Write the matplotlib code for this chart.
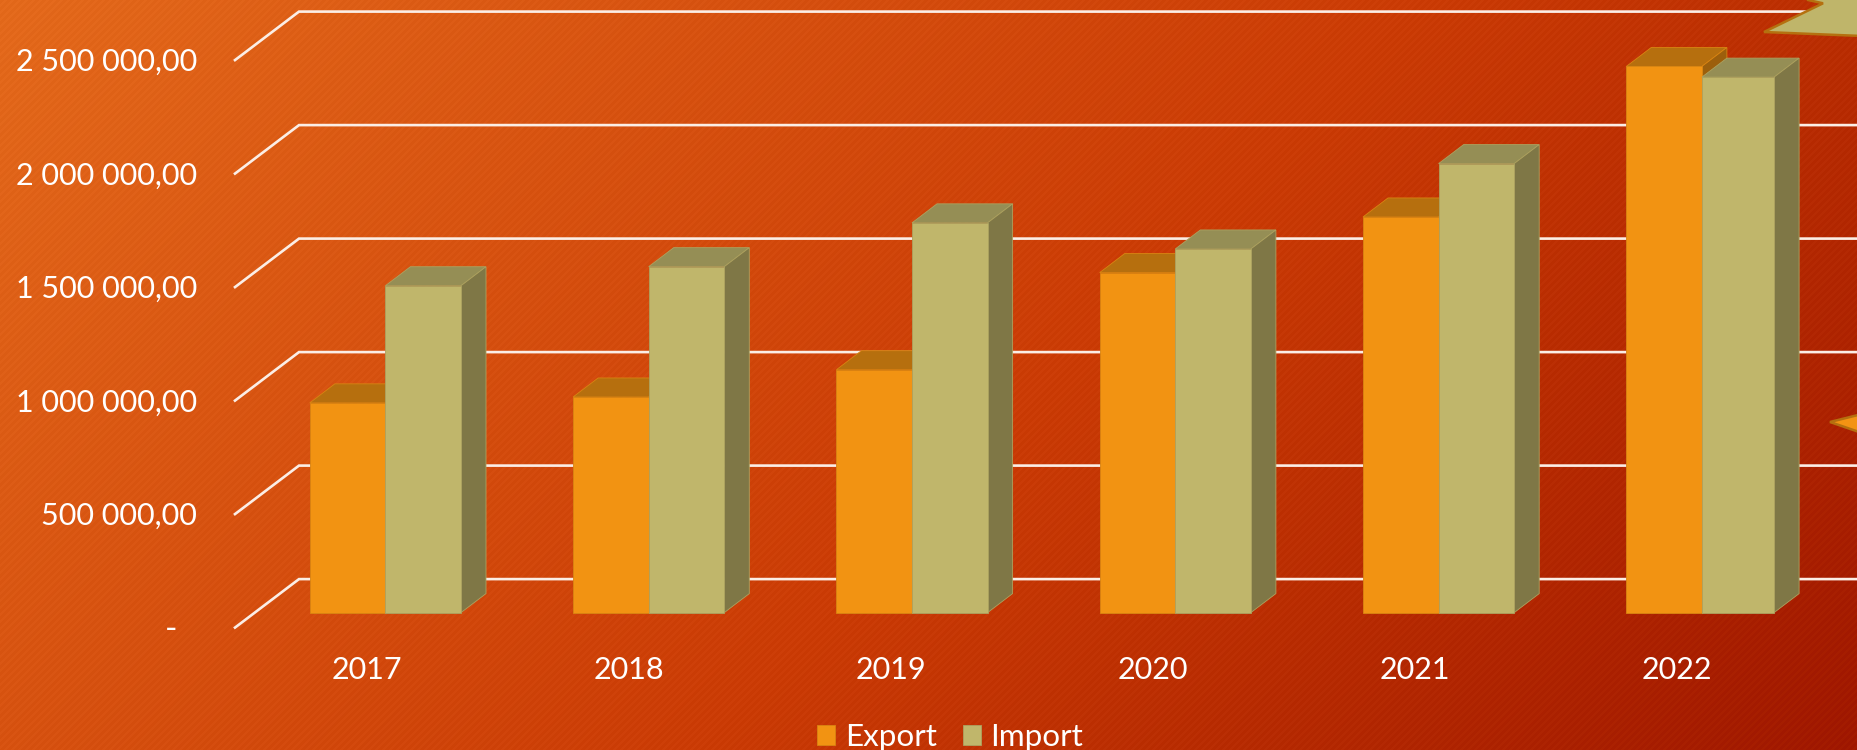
import numpy as np
import matplotlib
matplotlib.use("Agg")
import matplotlib.pyplot as plt
from matplotlib.patches import Polygon

years = ["2017", "2018", "2019", "2020", "2021", "2022"]
export_vals = [924000, 950000, 1070000, 1498000, 1743000, 2406000]
import_vals = [1440000, 1524000, 1717000, 1602000, 1978000, 2359000]
grid_vals = [0, 500000, 1000000, 1500000, 2000000, 2500000]

W, H = 1858, 750
plt.rcParams['font.family'] = ['Lato', 'DejaVu Sans']

fig = plt.figure(figsize=(W / 100, H / 100), dpi=100)

# background: diagonal gradient with fine stripes
yy, xx = np.mgrid[0:H, 0:W]
t = (xx / W * 0.72 + yy / H * 0.28)
stops = np.array([[230, 108, 30], [205, 62, 8], [162, 26, 0]], dtype=float)
bg = np.dstack([np.interp(t, [0, 0.55, 1], stops[:, c]) for c in range(3)])
stripes = ((xx + yy) % 7 < 3.5)[..., None] * 4.0
bg = np.clip(bg - stripes, 0, 255).astype(np.uint8)
ax_bg = fig.add_axes([0, 0, 1, 1], zorder=0)
ax_bg.imshow(bg, aspect='auto', interpolation='nearest')
ax_bg.axis('off')

ax = fig.add_axes([0, 0, 1, 1], zorder=1)
ax.patch.set_alpha(0)
ax.axis('off')

# scales: one group = 263.3 px, 500 000 = 113.5 px
px_x = 263.3
px_y = 113.5 / 500000
x0, y0 = 385.4, 750 - 612.6
ax.set_xlim(-x0 / px_x, (W - x0) / px_x)
ax.set_ylim(-y0 / px_y, (H - y0) / px_y)

bar_w = 75.6 / px_x
dep_x = 25 / px_x
dep_y = 19 / px_y
wall_dy = 33.5 / px_y
floor_dy = -15 / px_y
wall_x = (299 - x0) / px_x
floor_x = (235 - x0) / px_x
xmax = ax.get_xlim()[1]

for v in grid_vals:
    ax.plot([floor_x, wall_x, xmax], [v + floor_dy, v + wall_dy, v + wall_dy],
            color='#fbeee6', lw=1.9, zorder=1, solid_joinstyle='miter')
    if v == 0:
        ax.text(floor_x - 58 / px_x, v + floor_dy - 2 / px_y, "-", color='white', fontsize=24,
                ha='right', va='center')
    else:
        lab = f"{v:,.2f}".replace(",", " ").replace(".", ",")
        ax.text(floor_x - 38 / px_x, v + floor_dy - 2 / px_y, lab, color='white', fontsize=22,
                ha='right', va='center')


def draw_bars(xs, vals, widths, front, top, side, edge, label, z):
    bars = ax.bar(xs, vals, width=widths, align='edge', color=front, edgecolor=edge,
                  linewidth=0.6, zorder=z + 1, label=label)
    for x, v, w in zip(xs, vals, widths):
        xr = x + w
        ax.add_patch(Polygon([(x, v), (x + dep_x, v + dep_y), (xr + dep_x, v + dep_y), (xr, v)],
                             facecolor=top, edgecolor=edge, lw=0.6, zorder=z))
        ax.add_patch(Polygon([(xr, 0), (xr + dep_x, dep_y), (xr + dep_x, v + dep_y), (xr, v)],
                             facecolor=side, edgecolor=edge, lw=0.6, zorder=z))
    return bars


idx = np.arange(len(years))
# the last import bar is a little narrower in the source
import_w = np.array([1, 1, 1, 1, 1, 0.955]) * bar_w
b1 = draw_bars(idx - bar_w, export_vals, [bar_w] * 6, '#f29312', '#b66f0e', '#9c5f0c', '#d98512', 'Export', 2)
b2 = draw_bars(idx, import_vals, import_w, '#c0b66b', '#958e55', '#7f7746', '#aca260', 'Import', 4)

for i, y in enumerate(years):
    ax.text(i - (18 + i * 1.4) / px_x, -57 / px_y, y,
            color='white', fontsize=22, ha='center', va='center')

ax.legend(handles=[b1, b2], ncol=2, frameon=False, loc='lower center',
          bbox_to_anchor=(0.5115, -0.039), fontsize=22.6, labelcolor='white',
          handlelength=0.57, handleheight=0.57, handletextpad=0.3, columnspacing=0.85)

# pieces of the slide's star shapes at the right edge
fig.add_artist(Polygon([(1808 / W, 1), (1823 / W, 1 - 3.3 / H), (1764 / W, 1 - 32 / H),
                        (1862 / W, 1 - 36 / H), (1862 / W, 1.01), (1808 / W, 1.01)],
                       transform=fig.transFigure, facecolor='#bfb56a', edgecolor='#b5700f',
                       lw=1.8, zorder=5))
fig.add_artist(Polygon([(1830 / W, 1 - 422 / H), (1862 / W, 1 - 414 / H), (1862 / W, 1 - 433 / H)],
                       transform=fig.transFigure, facecolor='#f39313', edgecolor='#b5700f',
                       lw=1.8, zorder=5))

fig.savefig("out.png", dpi=100)
